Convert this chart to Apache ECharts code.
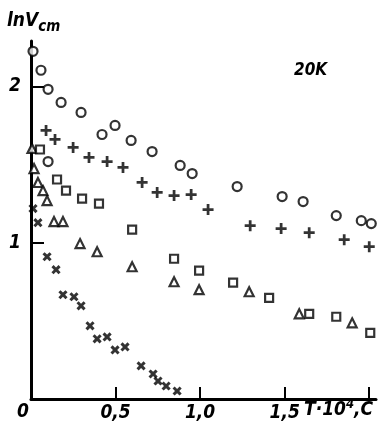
<!DOCTYPE html>
<html>
<head>
<meta charset="utf-8">
<script src="https://cdn.jsdelivr.net/npm/echarts@6/dist/echarts.min.js"></script>
<style>
  html, body { margin: 0; padding: 0; background: #fff; }
  #main { width: 378px; height: 424px; }
</style>
</head>
<body>
<div id="main"></div>
<script>
// T*10^4 (x) vs ln V (y)
const circles = [
  [0.012, 2.224], [0.059, 2.103], [0.101, 1.981], [0.178, 1.897], [0.296, 1.833],
  [0.420, 1.692], [0.497, 1.750], [0.592, 1.654], [0.716, 1.583], [0.882, 1.494],
  [0.953, 1.442], [1.219, 1.359], [1.485, 1.295], [1.609, 1.263], [1.805, 1.173],
  [1.953, 1.141], [2.012, 1.122], [0.101, 1.519]
];
const pluses = [
  [0.089, 1.718], [0.142, 1.660], [0.249, 1.609], [0.343, 1.545], [0.450, 1.519],
  [0.544, 1.481], [0.657, 1.385], [0.746, 1.321], [0.846, 1.301], [0.947, 1.308],
  [1.047, 1.212], [1.296, 1.109], [1.479, 1.090], [1.645, 1.064], [1.852, 1.019],
  [2.000, 0.974]
];
const triangles = [
  [0.006, 1.603], [0.018, 1.474], [0.041, 1.385], [0.071, 1.333], [0.095, 1.269],
  [0.136, 1.135], [0.189, 1.135], [0.290, 0.994], [0.391, 0.942], [0.598, 0.846],
  [0.846, 0.750], [0.994, 0.699], [1.290, 0.686], [1.586, 0.545], [1.899, 0.487]
];
const squares = [
  [0.053, 1.596], [0.154, 1.404], [0.207, 1.333], [0.302, 1.282], [0.402, 1.250],
  [0.598, 1.083], [0.846, 0.897], [0.994, 0.821], [1.195, 0.744], [1.408, 0.647],
  [1.645, 0.545], [1.805, 0.526], [2.006, 0.423]
];
const crosses = [
  [0.012, 1.218], [0.041, 1.128], [0.095, 0.910], [0.148, 0.827], [0.189, 0.667],
  [0.254, 0.654], [0.296, 0.596], [0.349, 0.468], [0.391, 0.385], [0.450, 0.397],
  [0.497, 0.314], [0.556, 0.333], [0.651, 0.212], [0.722, 0.160], [0.751, 0.115],
  [0.799, 0.083], [0.864, 0.051]
];
const xTickLabels = { 0.5: '0,5', 1: '1,0', 1.5: '1,5' };
const yTickLabels = { 1: '1', 2: '2' };

const font = 'DejaVu Sans Condensed, Liberation Sans Narrow, sans-serif';
const plusPath = 'path://M3.75 0h2.5v3.75h3.75v2.5h-3.75v3.75h-2.5v-3.75h-3.75v-2.5h3.75z';
const crossPath = 'path://M3.5 0h3v3.5h3.5v3h-3.5v3.5h-3v-3.5h-3.5v-3h3.5z';

const chart = echarts.init(document.getElementById('main'));

function hollow(name, data, symbol, size) {
  return {
    name, type: 'scatter', data, symbol, symbolSize: size,
    itemStyle: { color: '#fff', borderColor: '#000', borderWidth: 2.2 },
    silent: true
  };
}

chart.setOption({
  animation: false,
  backgroundColor: '#fff',
  grid: { left: 31, right: 2, top: 41, bottom: 25 },
  xAxis: {
    type: 'value', min: 0, max: 2.04, interval: 0.5,
    axisLine: { lineStyle: { color: '#000', width: 3 } },
    axisTick: { inside: true, length: 12, lineStyle: { color: '#000', width: 2 } },
    splitLine: { show: false },
    axisLabel: {
      color: '#000', fontSize: 19, fontStyle: 'italic', fontWeight: 'bold', fontFamily: font, margin: 5,
      showMaxLabel: false,
      formatter: v => xTickLabels[v] || ''
    }
  },
  yAxis: {
    type: 'value', min: 0, max: 2.29, interval: 1,
    axisLine: { lineStyle: { color: '#000', width: 3 } },
    axisTick: { inside: true, length: 13, lineStyle: { color: '#000', width: 2 } },
    splitLine: { show: false },
    axisLabel: {
      color: '#000', fontSize: 19, fontStyle: 'italic', fontWeight: 'bold', fontFamily: font, margin: 10,
      showMaxLabel: false,
      formatter: v => yTickLabels[v] || ''
    }
  },
  series: [
    hollow('circles', circles, 'circle', 9),
    hollow('triangles', triangles, 'triangle', 9),
    hollow('squares', squares, 'rect', 8),
    {
      name: 'pluses', type: 'scatter', data: pluses, symbol: plusPath, symbolSize: 11,
      itemStyle: { color: '#000' }, silent: true
    },
    {
      name: 'crosses', type: 'scatter', data: crosses, symbol: crossPath, symbolSize: 10,
      symbolRotate: 45, itemStyle: { color: '#000' }, silent: true
    }
  ],
  graphic: [
    {
      type: 'text', left: 7, top: 12,
      style: {
        text: '{a|lnV}{b|cm}',
        rich: {
          a: { fontSize: 19, fontStyle: 'italic', fontWeight: 'bold', fontFamily: font, fill: '#000' },
          b: { fontSize: 15, fontStyle: 'italic', fontWeight: 'bold', fontFamily: font, fill: '#000', padding: [12, 0, 0, 0] }
        }
      }
    },
    {
      type: 'text', left: 294, top: 62,
      style: { text: '20K', fontSize: 17, fontStyle: 'italic', fontWeight: 'bold', fontFamily: font, fill: '#000' }
    },
    {
      type: 'text', left: 17, top: 403,
      style: { text: '0', fontSize: 19, fontStyle: 'italic', fontWeight: 'bold', fontFamily: font, fill: '#000' }
    },
    {
      type: 'text', left: 304, top: 398,
      style: {
        text: '{a|T·10}{s|4}{a|,C}',
        rich: {
          a: { fontSize: 19, fontStyle: 'italic', fontWeight: 'bold', fontFamily: font, fill: '#000', padding: [6, 0, 0, 0] },
          s: { fontSize: 13, fontStyle: 'italic', fontWeight: 'bold', fontFamily: font, fill: '#000', padding: [0, 0, 6, 0] }
        }
      }
    }
  ]
});
</script>
</body>
</html>
